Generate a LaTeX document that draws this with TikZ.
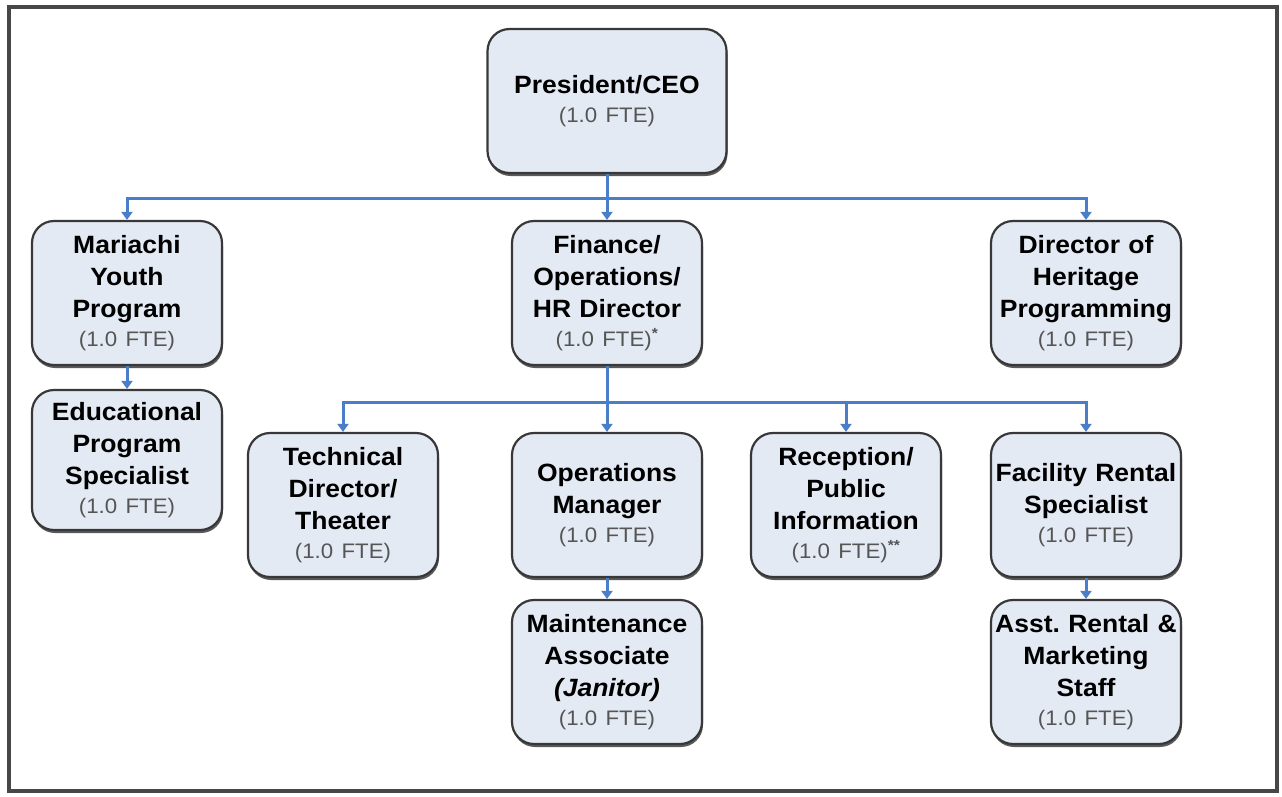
\documentclass[tikz,border=0pt]{standalone}
\usepackage{fontspec}
\setmainfont[FakeStretch=1.06]{Liberation Sans}
\usetikzlibrary{arrows.meta,shadows}
\definecolor{boxfill}{HTML}{E4EAF4}
\definecolor{conn}{HTML}{4A7EC8}
\definecolor{fte}{HTML}{555555}
\newcommand{\fteline}[1]{{\mdseries\fontsize{21}{31}\selectfont\color{fte}#1}}
\frenchspacing
\tikzset{
  orgbox/.style={draw=black!78, line width=2.2pt, fill=boxfill, rounded corners=22pt,
    minimum width=190pt, minimum height=144pt, text width=186pt, align=center,
    inner sep=0pt, font=\fontsize{25}{32}\selectfont\bfseries\frenchspacing,
    drop shadow={shadow xshift=1pt, shadow yshift=-3pt, fill=black!65, opacity=1}},
  link/.style={draw=conn, line width=3pt},
  arr/.style={draw=conn, line width=3pt, -{Triangle[width=11pt,length=8pt]}},
}
\begin{document}
\begin{tikzpicture}[x=1pt,y=-1pt]
\useasboundingbox (0,0) rectangle (1282,796);
\fill[white] (0,0) rectangle (1282,796);
\draw[line width=4pt, black!72] (9,7) rectangle (1277,791);

\node[orgbox, minimum width=239pt, text width=230pt] (ceo) at (607,101) {President/CEO\\[-3pt]\fteline{(1.0 FTE)}};
\node[orgbox] (mar) at (127,293) {Mariachi\\Youth\\Program\\[-3pt]\fteline{(1.0 FTE)}};
\node[orgbox] (fin) at (607,293) {Finance/\\Operations/\\HR Director\\[-3pt]\fteline{(1.0 FTE)\textsuperscript{\bfseries *}}};
\node[orgbox] (dir) at (1086,293) {Director of\\Heritage\\Programming\\[-3pt]\fteline{(1.0 FTE)}};
\node[orgbox, minimum height=140pt] (edu) at (127,460) {Educational\\Program\\Specialist\\[-3pt]\fteline{(1.0 FTE)}};
\node[orgbox] (tech) at (343,505) {Technical\\Director/\\Theater\\[-3pt]\fteline{(1.0 FTE)}};
\node[orgbox] (ops) at (607,505) {Operations\\Manager\\[-3pt]\fteline{(1.0 FTE)}};
\node[orgbox] (rec) at (846,505) {Reception/\\Public\\Information\\[-3pt]\fteline{(1.0 FTE)\textsuperscript{\bfseries **}}};
\node[orgbox] (fac) at (1086,505) {Facility Rental\\Specialist\\[-3pt]\fteline{(1.0 FTE)}};
\node[orgbox] (mnt) at (607,672) {Maintenance\\Associate\\{\itshape(Janitor)}\\[-3pt]\fteline{(1.0 FTE)}};
\node[orgbox] (asst) at (1086,672) {Asst. Rental \&\\Marketing\\Staff\\[-3pt]\fteline{(1.0 FTE)}};

\coordinate (b1) at (607,198);
\coordinate (b2) at (607,402);
\draw[link] (ceo.south) -- (b1);
\draw[arr] (b1) -| (mar.north);
\draw[arr] (b1) -- (fin.north);
\draw[arr] (b1) -| (dir.north);
\draw[link] (fin.south) -- (b2);
\draw[arr] (b2) -| (tech.north);
\draw[arr] (b2) -- (ops.north);
\draw[arr] (b2) -| (rec.north);
\draw[arr] (b2) -| (fac.north);
\draw[arr] (mar.south) -- (edu.north);
\draw[arr] (ops.south) -- (mnt.north);
\draw[arr] (fac.south) -- (asst.north);
\end{tikzpicture}
\end{document}
